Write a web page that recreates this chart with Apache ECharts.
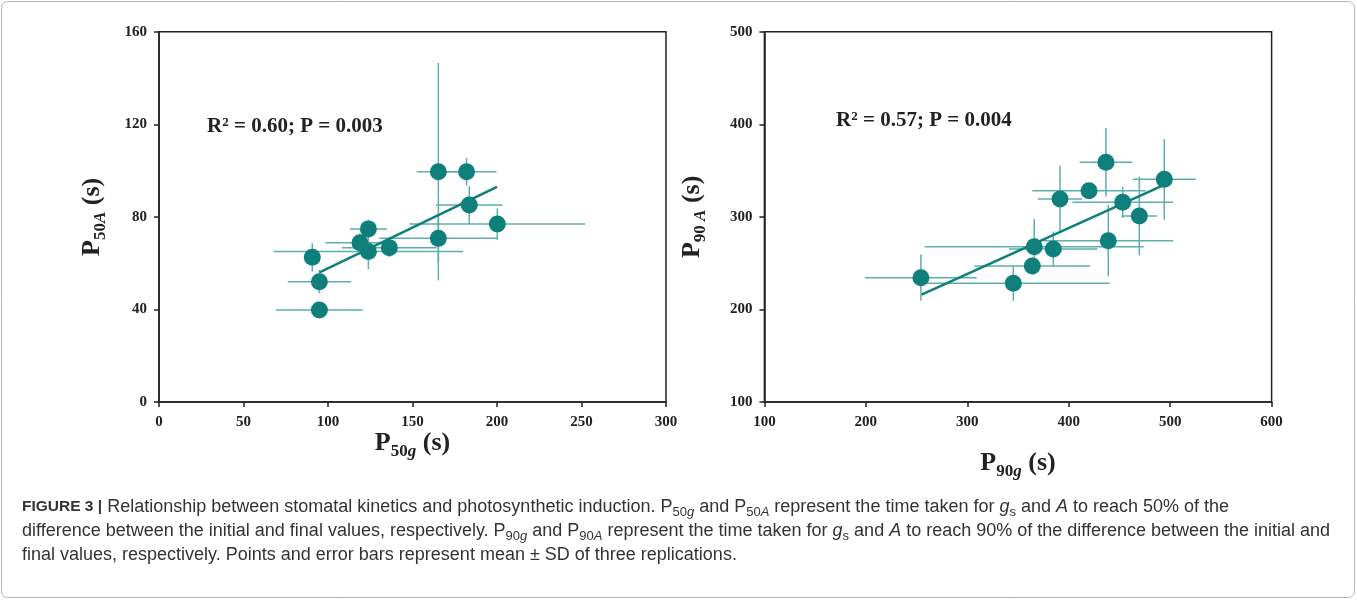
<!DOCTYPE html>
<html>
<head>
<meta charset="utf-8">
<script src="https://cdn.jsdelivr.net/npm/echarts@6/dist/echarts.min.js"></script>
<style>
  html, body { margin: 0; padding: 0; background: #fff; }
  #main { width: 1357px; height: 602px; }
</style>
</head>
<body>
<div id="main"></div>
<script>
// P50 panel (left)
const p50g   = [90.7, 94.9, 94.9, 118.9, 123.9, 123.9, 136.3, 165.3, 165.3, 182.0, 183.6, 200.2];
const p50A   = [62.5, 52.0, 39.8, 68.8, 74.8, 65.0, 66.7, 99.5, 70.7, 99.5, 85.1, 76.9];
const p50gSD = [3, 18.8, 25.8, 20.4, 11, 56, 28, 12.8, 35, 17.7, 19.7, 52];
const p50ASD = [6.1, 5, 3, 4, 4, 7.6, 4, 47, 10, 6, 8.2, 6.8];
const fit50  = [[95, 56], [200, 93]];

// P90 panel (right)
const p90g   = [254.3, 345.4, 364.1, 366.0, 384.8, 439.0, 391.4, 420.0, 436.7, 453.2, 469.6, 494.2];
const p90A   = [234.3, 228.2, 246.9, 267.7, 265.3, 274.2, 319.3, 328.3, 358.9, 315.7, 300.9, 340.5];
const p90gSD = [55, 95, 57, 108, 43.6, 64, 22, 56, 26, 49.6, 17.5, 31];
const p90ASD = [25, 19, 9, 30, 19, 38.6, 36, 6, 37, 17, 42.5, 43.6];
const fit90  = [[255, 216], [493, 334]];

const xTicks50 = [0, 300, 50];
const yTicks50 = [0, 160, 40];
const xTicks90 = [100, 600, 100];
const yTicks90 = [100, 500, 100];

const teal = '#0e7f7b';
const barTeal = '#5eaeab';
const serif = 'Liberation Serif';
const sans = 'Liberation Sans';

const myChart = echarts.init(document.getElementById('main'));

function zip(xs, ys, ex, ey) {
  return xs.map((x, i) => [x, ys[i], ex ? ex[i] : 0, ey ? ey[i] : 0]);
}

function errRender(params, api) {
  const x = api.value(0), y = api.value(1), ex = api.value(2), ey = api.value(3);
  const a = api.coord([x - ex, y]), b = api.coord([x + ex, y]);
  const c = api.coord([x, y - ey]), d = api.coord([x, y + ey]);
  const st = { stroke: barTeal, lineWidth: 1.5 };
  return {
    type: 'group',
    children: [
      { type: 'line', shape: { x1: a[0], y1: a[1], x2: b[0], y2: b[1] }, style: st },
      { type: 'line', shape: { x1: c[0], y1: c[1], x2: d[0], y2: d[1] }, style: st }
    ]
  };
}

const nameRich = {
  p: { fontFamily: serif, fontWeight: 'bold', fontSize: 26, lineHeight: 34, color: '#222' },
  s: { fontFamily: serif, fontWeight: 'bold', fontSize: 17, lineHeight: 20, verticalAlign: 'bottom', color: '#222' },
  si: { fontFamily: serif, fontWeight: 'bold', fontStyle: 'italic', fontSize: 17, lineHeight: 20, verticalAlign: 'bottom', color: '#222' }
};

function makeX(idx, t, name, gap) {
  return {
    gridIndex: idx, type: 'value', min: t[0], max: t[1], interval: t[2],
    name: name, nameLocation: 'middle', nameGap: gap, nameMoveOverlap: false,
    nameTextStyle: { rich: nameRich },
    axisLine: { show: true, lineStyle: { color: '#222', width: 1.5 } },
    axisTick: { show: true, inside: false, length: 5, lineStyle: { color: '#222', width: 1.5 } },
    axisLabel: { margin: 13, fontFamily: serif, fontWeight: 'bold', fontSize: 15, color: '#222' },
    splitLine: { show: false }
  };
}

function makeY(idx, t, name, gap) {
  return {
    gridIndex: idx, type: 'value', min: t[0], max: t[1], interval: t[2],
    name: name, nameLocation: 'middle', nameGap: gap, nameRotate: 90, nameMoveOverlap: false,
    nameTextStyle: { rich: nameRich },
    axisLine: { show: true, lineStyle: { color: '#222', width: 1.5 } },
    axisTick: { show: true, inside: false, length: 5, lineStyle: { color: '#222', width: 1.5 } },
    axisLabel: { margin: 12, fontFamily: serif, fontWeight: 'bold', fontSize: 15, color: '#222' },
    splitLine: { show: false }
  };
}

const annRich = {
  sup: { fontFamily: serif, fontWeight: 'bold', fontSize: 13, verticalAlign: 'top', lineHeight: 15, color: '#222' }
};

const capRich = {
  b: { fontFamily: sans, fontWeight: 'bold', fontSize: 15.5, lineHeight: 24, color: '#222' },
  s: { fontFamily: sans, fontSize: 13, lineHeight: 17, verticalAlign: 'bottom', color: '#333' },
  si: { fontFamily: sans, fontStyle: 'italic', fontSize: 13, lineHeight: 17, verticalAlign: 'bottom', color: '#333' },
  i: { fontFamily: sans, fontStyle: 'italic', fontSize: 18, lineHeight: 24, color: '#333' }
};

const caption =
  '{b|FIGURE 3 |} Relationship between stomatal kinetics and photosynthetic induction. P{s|50}{si|g} and P{s|50}{si|A} represent the time taken for {i|g}{s|s} and {i|A} to reach 50% of the\n' +
  'difference between the initial and final values, respectively. P{s|90}{si|g} and P{s|90}{si|A} represent the time taken for {i|g}{s|s} and {i|A} to reach 90% of the difference between the initial and\n' +
  'final values, respectively. Points and error bars represent mean \u00b1 SD of three replications.';

const option = {
  animation: false,
  backgroundColor: '#fff',
  grid: [
    { left: 159, top: 31.7, width: 507, height: 370.3, show: true, borderColor: '#222', borderWidth: 1.5 },
    { left: 764.4, top: 31.7, width: 507.2, height: 370.3, show: true, borderColor: '#222', borderWidth: 1.5 }
  ],
  xAxis: [
    makeX(0, xTicks50, '{p|P}{s|50}{si|g}{p| (s)}', 24),
    makeX(1, xTicks90, '{p|P}{s|90}{si|g}{p| (s)}', 44)
  ],
  yAxis: [
    makeY(0, yTicks50, '{p|P}{s|50}{si|A}{p| (s)}', 50),
    makeY(1, yTicks90, '{p|P}{s|90 }{si|A}{p| (s)}', 55)
  ],
  graphic: [
    {
      type: 'rect', silent: true,
      shape: { x: 1.5, y: 1.5, width: 1353, height: 596, r: 6 },
      style: { fill: 'none', stroke: '#b5b5b5', lineWidth: 1 }
    },
    {
      type: 'text', left: 207, top: 116,
      style: { text: 'R{sup|2} = 0.60; P = 0.003', rich: annRich, fontFamily: serif, fontWeight: 'bold', fontSize: 21, fill: '#222' }
    },
    {
      type: 'text', left: 836, top: 110,
      style: { text: 'R{sup|2} = 0.57; P = 0.004', rich: annRich, fontFamily: serif, fontWeight: 'bold', fontSize: 21, fill: '#222' }
    },
    {
      type: 'text', left: 22, top: 495,
      style: { text: caption, rich: capRich, fontFamily: sans, fontSize: 18, lineHeight: 24, fill: '#333' }
    }
  ],
  series: [
    {
      type: 'custom', xAxisIndex: 0, yAxisIndex: 0, z: 1,
      renderItem: errRender, encode: { x: 0, y: 1 },
      data: zip(p50g, p50A, p50gSD, p50ASD)
    },
    {
      type: 'line', xAxisIndex: 0, yAxisIndex: 0, z: 2,
      data: fit50, symbol: 'none',
      lineStyle: { color: teal, width: 2.5 }
    },
    {
      type: 'scatter', xAxisIndex: 0, yAxisIndex: 0, z: 3,
      data: zip(p50g, p50A).map(d => [d[0], d[1]]),
      symbolSize: 17, itemStyle: { color: teal, opacity: 1 }
    },
    {
      type: 'custom', xAxisIndex: 1, yAxisIndex: 1, z: 1,
      renderItem: errRender, encode: { x: 0, y: 1 },
      data: zip(p90g, p90A, p90gSD, p90ASD)
    },
    {
      type: 'line', xAxisIndex: 1, yAxisIndex: 1, z: 2,
      data: fit90, symbol: 'none',
      lineStyle: { color: teal, width: 2.5 }
    },
    {
      type: 'scatter', xAxisIndex: 1, yAxisIndex: 1, z: 3,
      data: zip(p90g, p90A).map(d => [d[0], d[1]]),
      symbolSize: 17, itemStyle: { color: teal, opacity: 1 }
    }
  ]
};

myChart.setOption(option);
</script>
</body>
</html>
